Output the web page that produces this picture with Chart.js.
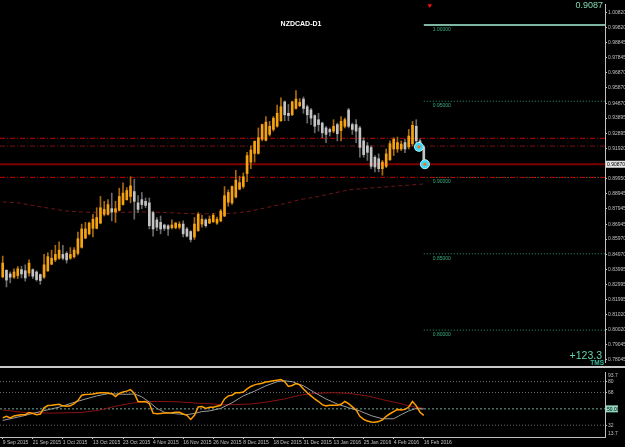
<!DOCTYPE html>
<html>
<head>
<meta charset="utf-8">
<script src="https://cdn.jsdelivr.net/npm/chart.js@4.4.0/dist/chart.umd.min.js"></script>
<style>
  html, body { margin: 0; padding: 0; background: #000; }
  #wrap { position: relative; width: 625px; height: 447px; background: #000; overflow: hidden; font-family: "Liberation Sans", Arial, sans-serif; }
  #main { position: absolute; left: 0; top: 0; }
  #sub { position: absolute; left: 0; top: 368px; }
  #sep { position: absolute; left: 0; top: 366px; width: 625px; height: 2px; background: #c8c8c8; }
  .txt { position: absolute; white-space: nowrap; line-height: 1; }
</style>
</head>
<body>
<div id="wrap">
  <canvas id="main" width="625" height="366"></canvas>
  <div id="sep"></div>
  <canvas id="sub" width="625" height="79"></canvas>
  <div class="txt" style="left:250px; width:102px; text-align:center; top:20px; font-size:7px; font-weight:bold; color:#fff;">NZDCAD-D1</div>
  <div class="txt" style="right:22px; top:1px; font-size:9px; color:#7fd8b0;">0.9087</div>
  <div class="txt" style="right:23px; top:350px; font-size:10.5px; color:#62d4a8;">+123.3</div>
  <div class="txt" style="right:21px; top:360px; font-size:6.5px; font-weight:bold; color:#3cb89a;">TMS</div>
</div>
<script>
// NZDCAD daily bars, 9 Sep 2015 .. 16 Feb 2016
const opens = [
  0.8349, 0.8392, 0.8368, 0.8347, 0.8357, 0.8396, 0.8389, 0.8374, 0.8396, 0.8381,
  0.8364, 0.8347, 0.8389, 0.8432, 0.8460, 0.8471, 0.8496, 0.8503, 0.8471, 0.8481,
  0.8503, 0.8543, 0.8603, 0.8631, 0.8667, 0.8667, 0.8701, 0.8759, 0.8759, 0.8796,
  0.8774, 0.8785, 0.8823, 0.8855, 0.8876, 0.8908, 0.8834, 0.8855, 0.8844, 0.8834,
  0.8770, 0.8722, 0.8706, 0.8689, 0.8684, 0.8671, 0.8671, 0.8674, 0.8695, 0.8663,
  0.8646, 0.8610, 0.8652, 0.8695, 0.8722, 0.8701, 0.8710, 0.8701, 0.8716, 0.8748,
  0.8838, 0.8834, 0.8872, 0.8924, 0.8941, 0.9026, 0.9101, 0.9158, 0.9158, 0.9251,
  0.9244, 0.9283, 0.9315, 0.9336, 0.9372, 0.9496, 0.9421, 0.9411, 0.9453, 0.9471,
  0.9514, 0.9464, 0.9443, 0.9406, 0.9379, 0.9357, 0.9325, 0.9315, 0.9304, 0.9347,
  0.9308, 0.9336, 0.9443, 0.9347, 0.9347, 0.9325, 0.9240, 0.9208, 0.9197, 0.9133,
  0.9123, 0.9058, 0.9073, 0.9116, 0.9187, 0.9187, 0.9187, 0.9229, 0.9201, 0.9221,
  0.9336, 0.9240, 0.9201
];
const highs = [
  0.8485, 0.8396, 0.8381, 0.8402, 0.8417, 0.8417, 0.8428, 0.8460, 0.8402, 0.8389,
  0.8368, 0.8496, 0.8507, 0.8524, 0.8556, 0.8578, 0.8556, 0.8514, 0.8541, 0.8541,
  0.8642, 0.8695, 0.8706, 0.8708, 0.8759, 0.8802, 0.8876, 0.8844, 0.8855, 0.8898,
  0.8844, 0.8930, 0.8966, 0.8934, 0.9005, 0.8988, 0.8881, 0.8902, 0.8866, 0.8866,
  0.8780, 0.8738, 0.8748, 0.8695, 0.8692, 0.8722, 0.8706, 0.8710, 0.8716, 0.8674,
  0.8652, 0.8738, 0.8770, 0.8753, 0.8730, 0.8748, 0.8765, 0.8740, 0.8791, 0.8941,
  0.8919, 0.8945, 0.9047, 0.9009, 0.9030, 0.9165, 0.9208, 0.9240, 0.9325, 0.9351,
  0.9400, 0.9368, 0.9400, 0.9475, 0.9522, 0.9502, 0.9479, 0.9501, 0.9569, 0.9517,
  0.9528, 0.9475, 0.9453, 0.9411, 0.9421, 0.9363, 0.9336, 0.9325, 0.9379, 0.9357,
  0.9400, 0.9389, 0.9453, 0.9357, 0.9379, 0.9336, 0.9261, 0.9229, 0.9208, 0.9144,
  0.9155, 0.9112, 0.9187, 0.9240, 0.9261, 0.9265, 0.9240, 0.9251, 0.9315, 0.9368,
  0.9379, 0.9253, 0.9208
];
const lows = [
  0.8342, 0.8283, 0.8310, 0.8338, 0.8338, 0.8342, 0.8321, 0.8353, 0.8338, 0.8321,
  0.8300, 0.8338, 0.8384, 0.8428, 0.8449, 0.8464, 0.8460, 0.8439, 0.8464, 0.8471,
  0.8492, 0.8537, 0.8599, 0.8624, 0.8610, 0.8663, 0.8697, 0.8748, 0.8754, 0.8716,
  0.8706, 0.8780, 0.8818, 0.8851, 0.8834, 0.8727, 0.8770, 0.8796, 0.8802, 0.8663,
  0.8616, 0.8652, 0.8631, 0.8652, 0.8620, 0.8663, 0.8663, 0.8663, 0.8610, 0.8610,
  0.8578, 0.8594, 0.8647, 0.8674, 0.8674, 0.8697, 0.8706, 0.8693, 0.8710, 0.8743,
  0.8812, 0.8823, 0.8866, 0.8919, 0.8930, 0.8972, 0.9058, 0.9101, 0.9153, 0.9240,
  0.9240, 0.9272, 0.9304, 0.9330, 0.9368, 0.9372, 0.9372, 0.9406, 0.9448, 0.9464,
  0.9421, 0.9357, 0.9347, 0.9293, 0.9304, 0.9261, 0.9229, 0.9272, 0.9293, 0.9240,
  0.9240, 0.9325, 0.9325, 0.9283, 0.9229, 0.9133, 0.9133, 0.9112, 0.9058, 0.9037,
  0.9037, 0.9015, 0.9065, 0.9112, 0.9144, 0.9165, 0.9176, 0.9163, 0.9187, 0.9208,
  0.9176, 0.9189, 0.9086
];
const closes = [
  0.8439, 0.8328, 0.8347, 0.8381, 0.8402, 0.8368, 0.8342, 0.8439, 0.8353, 0.8331,
  0.8325, 0.8428, 0.8481, 0.8471, 0.8496, 0.8524, 0.8471, 0.8460, 0.8496, 0.8524,
  0.8599, 0.8663, 0.8663, 0.8701, 0.8727, 0.8738, 0.8802, 0.8791, 0.8823, 0.8774,
  0.8796, 0.8876, 0.8898, 0.8915, 0.8945, 0.8844, 0.8791, 0.8823, 0.8817, 0.8684,
  0.8663, 0.8674, 0.8663, 0.8667, 0.8663, 0.8689, 0.8701, 0.8695, 0.8631, 0.8616,
  0.8594, 0.8695, 0.8759, 0.8727, 0.8684, 0.8727, 0.8753, 0.8727, 0.8780, 0.8881,
  0.8902, 0.8941, 0.8983, 0.8966, 0.9005, 0.9144, 0.9180, 0.9237, 0.9261, 0.9347,
  0.9363, 0.9336, 0.9389, 0.9421, 0.9464, 0.9411, 0.9406, 0.9496, 0.9514, 0.9492,
  0.9453, 0.9411, 0.9389, 0.9336, 0.9347, 0.9293, 0.9283, 0.9299, 0.9336, 0.9287,
  0.9368, 0.9379, 0.9336, 0.9315, 0.9304, 0.9197, 0.9150, 0.9165, 0.9073, 0.9069,
  0.9058, 0.9101, 0.9155, 0.9222, 0.9251, 0.9229, 0.9219, 0.9187, 0.9272, 0.9342,
  0.9240, 0.9201, 0.9087
];

// long moving average on the price window, [bar, price]
const maPoints = [
  [0, 0.8840], [4, 0.8834], [8, 0.8817], [13, 0.8796], [17, 0.8780], [21, 0.8774],
  [26, 0.8770], [30, 0.8770], [35, 0.8774], [39, 0.8774], [44, 0.8770], [48, 0.8765],
  [52, 0.8761], [57, 0.8763], [61, 0.8765], [66, 0.8780], [70, 0.8802], [75, 0.8829],
  [79, 0.8855], [84, 0.8876], [88, 0.8898], [92, 0.8919], [97, 0.8930], [101, 0.8937],
  [106, 0.8947], [108, 0.8950], [112, 0.8958]
];

// horizontal levels
const dashDotLevels = [0.9257, 0.9206, 0.9001];
const dashDotColors = ['#c40000', '#7d1414', '#c40000'];
const fibLevels = [1.0, 0.95, 0.90, 0.85, 0.80];
const fibStartBar = 112;
const tradeMarks = [[110.7, 0.9201], [112.3, 0.9087]];
const topMark = [[113.6, 1.0128]];

// oscillator panel
const fastLine = [
  40.1, 41.8, 40.1, 42.2, 42.9, 43.6, 43.6, 46.0, 45.0, 43.6,
  44.3, 51.2, 53.6, 53.9, 54.6, 55.0, 53.3, 52.9, 53.3, 55.7,
  59.1, 65.0, 65.7, 66.0, 66.4, 67.1, 67.8, 67.8, 67.4, 66.7,
  63.6, 67.1, 68.5, 69.5, 71.2, 67.1, 58.1, 57.7, 58.1, 55.7,
  45.3, 44.6, 45.0, 45.3, 45.3, 45.6, 46.3, 46.3, 44.3, 42.9,
  38.4, 42.9, 52.2, 52.6, 50.5, 51.9, 51.9, 52.9, 53.9, 60.9,
  64.3, 65.0, 67.8, 67.8, 68.5, 71.9, 74.7, 76.4, 77.5, 78.2,
  79.5, 80.2, 80.9, 81.6, 82.3, 79.9, 74.7, 75.7, 77.8, 76.4,
  71.9, 67.8, 64.3, 60.9, 58.1, 54.6, 53.3, 53.9, 53.9, 53.9,
  55.0, 58.1, 55.7, 52.2, 48.8, 41.8, 38.4, 36.7, 35.6, 35.3,
  36.0, 38.0, 41.8, 44.6, 47.0, 49.4, 48.8, 49.4, 52.0, 58.1,
  53.3, 46.3, 42.9
];
const slowLine = [
  [0, 37.3], [5, 41.8], [10, 47.0], [15, 51.9], [20, 58.4], [25, 64.3], [28, 66.7],
  [33, 66.0], [35, 66.4], [37, 63.3], [39, 57.4], [41, 50.5], [43, 46.3], [46, 44.6],
  [49, 43.6], [51, 45.0], [53, 47.0], [55, 47.7], [58, 50.5], [61, 56.7], [64, 64.3],
  [67, 69.5], [70, 75.4], [73, 79.9], [75, 80.9], [77, 79.9], [80, 75.4], [83, 67.8],
  [86, 60.9], [89, 55.3], [92, 51.2], [95, 47.7], [98, 42.5], [101, 39.1], [104, 39.1],
  [106, 43.6], [108, 47.7], [110, 50.5], [112, 49.8]
];
const signalLine = [
  [0, 48.8], [5, 46.3], [13, 45.3], [21, 46.0], [26, 48.8], [30, 52.9], [35, 56.7],
  [39, 58.1], [44, 58.1], [48, 57.4], [52, 56.2], [55, 55.7], [58, 54.6], [61, 54.6],
  [66, 55.3], [70, 57.4], [75, 60.9], [79, 65.0], [83, 67.1], [88, 67.8], [92, 67.1],
  [97, 64.3], [101, 60.2], [106, 55.7], [108, 53.3], [111, 51.2], [112, 50.5]
];
const oscLevels = [80, 68, 32];
const oscMid = 50;
const oscRangeLabels = ['93.7', '13.7'];

// axes
const priceTicks = [
  1.00820, 0.99820, 0.98845, 0.97845, 0.96870, 0.95870, 0.94870, 0.93895, 0.92895,
  0.91920, 0.89950, 0.88945, 0.87945, 0.86945, 0.85970, 0.84970, 0.83995, 0.82995,
  0.81995, 0.81020, 0.80020, 0.79045, 0.78045
];
const dateTickBars = [0, 8, 16, 24, 32, 40, 48, 56, 64, 72, 80, 88, 96, 104, 112];
const dateLabels = [
  '9 Sep 2015', '21 Sep 2015', '1 Oct 2015', '13 Oct 2015', '23 Oct 2015',
  '4 Nov 2015', '16 Nov 2015', '26 Nov 2015', '8 Dec 2015', '18 Dec 2015',
  '31 Dec 2015', '13 Jan 2016', '25 Jan 2016', '4 Feb 2016', '16 Feb 2016'
];

const xMin = -0.72, xMax = 160.2;
const priceMin = 0.77910, priceMax = 1.01372;
const oscMin = 19.0, oscMax = 90.6;

const FONT = '"Liberation Sans", Arial, sans-serif';
const AXIS = '#c0c0c0';
const bull = closes.map((c, i) => c >= opens[i]);
const flat = (v, from, to) => [{ x: from, y: v }, { x: to, y: v }];
const pts = arr => arr.map(p => ({ x: p[0], y: p[1] }));

const hline = (v, color, dash, width, order, from) => ({
  type: 'line', data: flat(v, from === undefined ? xMin : from, xMax),
  borderColor: color, borderWidth: width, borderDash: dash,
  pointRadius: 0, order: order
});

const mainDatasets = [
  {
    type: 'scatter', data: pts(tradeMarks), order: 0,
    pointRadius: 1.6, backgroundColor: '#ff6a20', borderWidth: 0
  },
  {
    type: 'scatter', data: pts(tradeMarks), order: 1,
    pointRadius: 4.5, backgroundColor: '#3fd6f2', borderColor: '#aef4ff', borderWidth: 1
  },
  {
    type: 'scatter', data: pts(topMark), order: 1,
    pointStyle: 'triangle', rotation: 180, pointRadius: 2.5, backgroundColor: '#ff1010', borderWidth: 0
  },
  {
    type: 'bar', order: 2, grouped: false, barThickness: 2, minBarLength: 1,
    data: opens.map((o, i) => ({ x: i, y: [o, closes[i]] })),
    backgroundColor: bull.map(b => b ? '#f5a311' : '#c4c4c4')
  },
  {
    type: 'bar', order: 3, grouped: false, barThickness: 1,
    data: lows.map((l, i) => ({ x: i, y: [l, highs[i]] })),
    backgroundColor: bull.map(b => b ? '#a86a0c' : '#6a6a6a')
  },
  {
    type: 'line', data: pts(maPoints), order: 4,
    borderColor: '#6e1616', borderWidth: 1, borderDash: [4, 3], pointRadius: 0
  },
  hline(closes[closes.length - 1], '#7c0000', [], 2, 5)
];
dashDotLevels.forEach((v, k) => mainDatasets.push(hline(v, dashDotColors[k], [5, 2, 1, 2], 1, 6)));
fibLevels.forEach((v, k) => mainDatasets.push(
  k === 0 ? hline(v, '#a6f2d6', [], 1.5, 7, fibStartBar)
          : hline(v, '#2f9c6c', [1, 2], 1, 7, fibStartBar)
));

const mainOverlay = {
  id: 'mainOverlay',
  afterDatasetsDraw(chart) {
    const ctx = chart.ctx, xs = chart.scales.x, ys = chart.scales.y;
    ctx.save();
    ctx.font = '5px ' + FONT;
    ctx.textBaseline = 'top';
    ctx.fillStyle = '#3aae80';
    fibLevels.forEach(v => {
      ctx.fillText(v.toFixed(5), xs.getPixelForValue(fibStartBar) + 9, ys.getPixelForValue(v) + 2);
    });
    // last price box on the axis
    const last = closes[closes.length - 1];
    const y = ys.getPixelForValue(last);
    ctx.fillStyle = '#e4e4e4';
    ctx.fillRect(chart.chartArea.right + 1, y - 3.5, 19, 7);
    ctx.fillStyle = '#000';
    ctx.textBaseline = 'middle';
    ctx.fillText(last.toFixed(5), chart.chartArea.right + 2, y + 0.5);
    ctx.restore();
  }
};

new Chart(document.getElementById('main'), {
  type: 'bar',
  data: { datasets: mainDatasets },
  options: {
    responsive: false,
    animation: false,
    layout: { padding: 0, autoPadding: false },
    plugins: { legend: { display: false }, tooltip: { enabled: false } },
    scales: {
      x: { type: 'linear', min: xMin, max: xMax, offset: false, display: false },
      y: {
        type: 'linear', position: 'right', min: priceMin, max: priceMax,
        afterFit: s => { s.width = 20; },
        afterBuildTicks: s => { s.ticks = priceTicks.map(v => ({ value: v })); },
        ticks: { autoSkip: false, padding: 1, color: AXIS, font: { size: 5, family: FONT }, callback: v => v.toFixed(5) },
        grid: { drawOnChartArea: false, tickLength: 2, color: AXIS },
        border: { color: AXIS }
      }
    }
  },
  plugins: [mainOverlay]
});

const subOverlay = {
  id: 'subOverlay',
  afterDatasetsDraw(chart) {
    const ctx = chart.ctx, ys = chart.scales.y, area = chart.chartArea;
    ctx.save();
    ctx.font = '5px ' + FONT;
    ctx.fillStyle = AXIS;
    ctx.textBaseline = 'top';
    ctx.fillText(oscRangeLabels[0], area.right + 3, area.top + 1);
    ctx.textBaseline = 'bottom';
    ctx.fillText(oscRangeLabels[1], area.right + 3, area.bottom - 1);
    const y = ys.getPixelForValue(oscMid);
    ctx.fillStyle = '#8fd8c0';
    ctx.fillRect(area.right + 1, y - 3.5, 12, 7);
    ctx.fillStyle = '#000';
    ctx.textBaseline = 'middle';
    ctx.fillText(oscMid.toFixed(2), area.right + 2, y + 0.5);
    ctx.restore();
  }
};

const subDatasets = [
  {
    type: 'line', data: fastLine.map((v, i) => ({ x: i, y: v })), order: 0,
    borderColor: '#ffa000', borderWidth: 1.5, pointRadius: 0
  },
  {
    type: 'line', data: pts(slowLine), order: 1,
    borderColor: '#9a9a9a', borderWidth: 1, pointRadius: 0
  },
  {
    type: 'line', data: pts(signalLine), order: 2,
    borderColor: '#8a1212', borderWidth: 1, pointRadius: 0
  },
  hline(oscMid, '#6fa898', [2, 2], 1, 3)
];
oscLevels.forEach(v => subDatasets.push(hline(v, '#6a6a6a', [1, 2], 1, 4)));

new Chart(document.getElementById('sub'), {
  type: 'line',
  data: { datasets: subDatasets },
  options: {
    responsive: false,
    animation: false,
    layout: { padding: 0, autoPadding: false },
    plugins: { legend: { display: false }, tooltip: { enabled: false } },
    scales: {
      x: {
        type: 'linear', min: xMin, max: xMax, position: 'bottom',
        afterFit: s => { s.height = 10; },
        afterBuildTicks: s => { s.ticks = dateTickBars.map(v => ({ value: v })); },
        ticks: { autoSkip: false, maxRotation: 0, align: 'start', padding: 1, color: AXIS,
                 font: { size: 5, family: FONT }, callback: (v, i) => dateLabels[i] },
        grid: { drawOnChartArea: false, tickLength: 2, color: AXIS },
        border: { color: AXIS }
      },
      y: {
        type: 'linear', position: 'right', min: oscMin, max: oscMax,
        afterFit: s => { s.width = 20; },
        afterBuildTicks: s => { s.ticks = oscLevels.map(v => ({ value: v })); },
        ticks: { autoSkip: false, padding: 1, color: AXIS, font: { size: 5, family: FONT }, callback: v => String(v) },
        grid: { drawOnChartArea: false, tickLength: 2, color: AXIS },
        border: { color: AXIS }
      }
    }
  },
  plugins: [subOverlay]
});
</script>
</body>
</html>
